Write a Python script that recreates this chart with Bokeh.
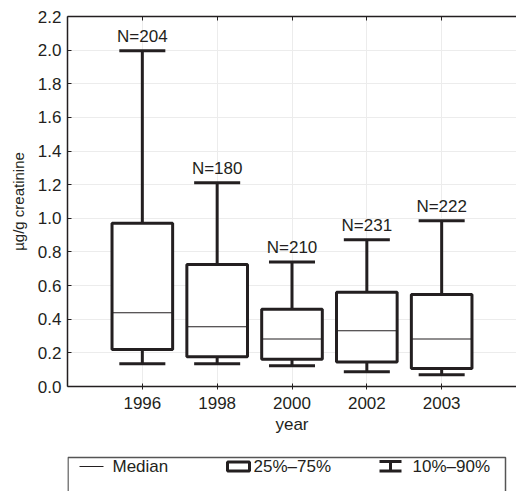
from bokeh.plotting import figure
from bokeh.models import (FactorRange, Range1d, CategoricalAxis, FixedTicker,
                          NumeralTickFormatter, ColumnDataSource)
from bokeh.layouts import column
from bokeh.core.properties import value
from bokeh.embed import file_html
from bokeh.resources import INLINE

# Urinary concentration by survey year: 10th/25th/50th/75th/90th percentiles
years = ["1996", "1998", "2000", "2002", "2003"]
p10 = [0.135, 0.135, 0.123, 0.087, 0.070]
p25 = [0.220, 0.177, 0.162, 0.145, 0.107]
median = [0.438, 0.355, 0.283, 0.331, 0.283]
p75 = [0.971, 0.725, 0.460, 0.561, 0.547]
p90 = [1.996, 1.211, 0.741, 0.872, 0.985]
n_obs = [204, 180, 210, 231, 222]

y_ticks = [0.0, 0.2, 0.4, 0.6, 0.8, 1.0, 1.2, 1.4, 1.6, 1.8, 2.0, 2.2]
legend_labels = ["Median", "25%\u201375%", "10%\u201390%"]

INK = "#231f20"
FONT = "Liberation Sans"

src = ColumnDataSource(dict(year=years, p10=p10, p25=p25, median=median,
                            p75=p75, p90=p90,
                            nlab=["N=%d" % n for n in n_obs]))

p = figure(width=516, height=452,
           x_range=FactorRange(factors=years, range_padding=0.5,
                               range_padding_units="absolute"),
           y_range=Range1d(0, 2.2),
           output_backend="svg", toolbar_location=None,
           min_border_left=67, min_border_top=16, min_border_right=0,
           min_border_bottom=66)
p.outline_line_color = None
p.background_fill_color = "white"

# grid
p.xgrid.grid_line_color = "#ececec"
p.ygrid.grid_line_color = "#ececec"

# left axis
ya = p.yaxis[0]
ya.ticker = FixedTicker(ticks=y_ticks)
ya.formatter = NumeralTickFormatter(format="0.0")
ya.axis_label = "\u00b5g/g creatinine"
ya.axis_label_text_font = FONT
ya.axis_label_text_font_size = "15px"
ya.axis_label_text_font_style = "normal"
ya.axis_label_text_color = INK
ya.axis_label_standoff = 8
ya.major_label_text_font = FONT
ya.major_label_text_font_size = "17px"
ya.major_label_text_color = INK
ya.major_label_standoff = 6
ya.major_tick_in = 4
ya.major_tick_out = 0
ya.minor_tick_line_color = None
ya.axis_line_color = INK
ya.axis_line_width = 1.5
ya.major_tick_line_color = INK

# bottom axis
xa = p.xaxis[0]
xa.axis_label = "year"
xa.axis_label_text_font = FONT
xa.axis_label_text_font_size = "17px"
xa.axis_label_text_font_style = "normal"
xa.axis_label_text_color = INK
xa.axis_label_standoff = 3
xa.major_label_text_font = FONT
xa.major_label_text_font_size = "17px"
xa.major_label_text_color = INK
xa.major_label_standoff = 7
xa.major_tick_in = 3
xa.major_tick_out = 3
xa.axis_line_color = INK
xa.axis_line_width = 1.5
xa.major_tick_line_color = INK

# top axis: line and inward ticks only, no labels
top = CategoricalAxis(major_label_text_font_size="1px",
                      major_label_text_color=None, major_label_standoff=0,
                      major_tick_in=4, major_tick_out=0,
                      axis_line_color=INK, axis_line_width=1.5,
                      major_tick_line_color=INK)
p.add_layout(top, "above")

# whisker stems (hidden inside the boxes)
p.segment(x0="year", y0="p10", x1="year", y1="p90", source=src,
          line_color=INK, line_width=3)
# whisker caps
p.rect(x="year", y="p10", width=0.615, height=3, height_units="screen",
       source=src, fill_color=INK, line_color=None)
p.rect(x="year", y="p90", width=0.615, height=3, height_units="screen",
       source=src, fill_color=INK, line_color=None)
# interquartile boxes
p.vbar(x="year", bottom="p25", top="p75", width=0.81, source=src,
       fill_color="white", line_color=INK, line_width=3)
# medians
p.rect(x="year", y="median", width=0.79, height=1, height_units="screen",
       source=src, fill_color=INK, line_color=None)
# sample sizes
p.text(x="year", y="p90", text="nlab", source=src, text_align="center",
       text_baseline="alphabetic", y_offset=-14, text_font=value(FONT),
       text_font_size="17px", text_color=INK)

# key strip underneath the chart; its frame lines up with the chart frame,
# so the x range is expressed in page pixels from 67 to 516
leg = figure(width=516, height=39, x_range=Range1d(67, 516),
             y_range=Range1d(39, 0), output_backend="svg",
             toolbar_location=None, x_axis_type=None, y_axis_type=None,
             min_border=0)
leg.outline_line_color = None
leg.grid.visible = False

leg.quad(left=[67.5], right=[505], top=[5], bottom=[80], fill_color=None,
         line_color="#555555", line_width=1.5)
# median sample
leg.segment(x0=[79], y0=[14], x1=[103], y1=[14], line_color=INK, line_width=1)
# box sample
leg.quad(left=[227], right=[249], top=[9.5], bottom=[18.5],
         fill_color="white", line_color=INK, line_width=3)
# whisker sample
leg.segment(x0=[379, 379, 390], y0=[9, 18.5, 9], x1=[401, 401, 390],
            y1=[9, 18.5, 18.5], line_color=INK, line_width=3)
leg.text(x=[112, 253, 412], y=[14, 14, 14], text=legend_labels,
         text_align="left", text_baseline="middle", text_font=value(FONT),
         text_font_size="17px", text_color=INK)

layout = column(p, leg, spacing=0)
open("out.html", "w").write(file_html(layout, INLINE))
